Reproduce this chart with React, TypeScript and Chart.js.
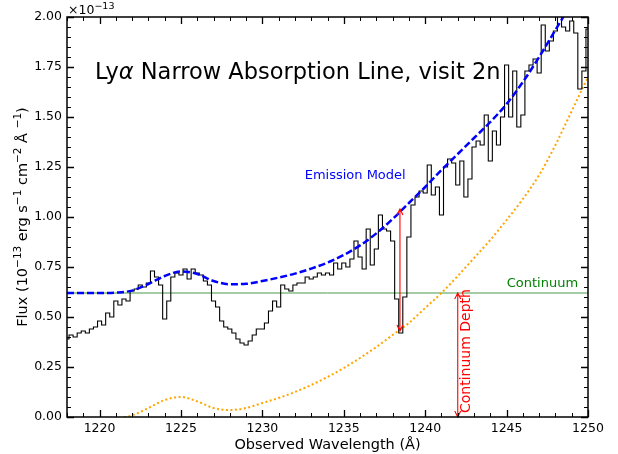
import React, { useEffect, useRef } from "react";
import { Chart, registerables } from "chart.js";

Chart.register(...registerables);

// Observed wavelength grid (Å) of the spectrum bins
const WAVELENGTH = [
  1218.0, 1218.25, 1218.5, 1218.75, 1219.0, 1219.25, 1219.5, 1219.75,
  1220.0, 1220.25, 1220.5, 1220.75, 1221.0, 1221.25, 1221.5, 1221.75,
  1222.0, 1222.25, 1222.5, 1222.75, 1223.0, 1223.25, 1223.5, 1223.75,
  1224.0, 1224.25, 1224.5, 1224.75, 1225.0, 1225.25, 1225.5, 1225.75,
  1226.0, 1226.25, 1226.5, 1226.75, 1227.0, 1227.25, 1227.5, 1227.75,
  1228.0, 1228.25, 1228.5, 1228.75, 1229.0, 1229.25, 1229.5, 1229.75,
  1230.0, 1230.25, 1230.5, 1230.75, 1231.0, 1231.25, 1231.5, 1231.75,
  1232.0, 1232.25, 1232.5, 1232.75, 1233.0, 1233.25, 1233.5, 1233.75,
  1234.0, 1234.25, 1234.5, 1234.75, 1235.0, 1235.25, 1235.5, 1235.75,
  1236.0, 1236.25, 1236.5, 1236.75, 1237.0, 1237.25, 1237.5, 1237.75,
  1238.0, 1238.25, 1238.5, 1238.75, 1239.0, 1239.25, 1239.5, 1239.75,
  1240.0, 1240.25, 1240.5, 1240.75, 1241.0, 1241.25, 1241.5, 1241.75,
  1242.0, 1242.25, 1242.5, 1242.75, 1243.0, 1243.25, 1243.5, 1243.75,
  1244.0, 1244.25, 1244.5, 1244.75, 1245.0, 1245.25, 1245.5, 1245.75,
  1246.0, 1246.25, 1246.5, 1246.75, 1247.0, 1247.25, 1247.5, 1247.75,
  1248.0, 1248.25, 1248.5, 1248.75, 1249.0, 1249.25, 1249.5, 1249.75,
  1250.0,
];

// Observed flux (10^-13 erg s^-1 cm^-2 Å^-1)
const FLUX = [
  0.39, 0.41, 0.40, 0.42, 0.43, 0.42, 0.44, 0.45,
  0.48, 0.46, 0.52, 0.50, 0.58, 0.56, 0.59, 0.58,
  0.63, 0.64, 0.66, 0.65, 0.67, 0.73, 0.70, 0.66,
  0.49, 0.58, 0.70, 0.72, 0.71, 0.74, 0.69, 0.74,
  0.72, 0.71, 0.68, 0.66, 0.58, 0.55, 0.48, 0.45,
  0.44, 0.42, 0.39, 0.37, 0.36, 0.38, 0.41, 0.44,
  0.44, 0.47, 0.53, 0.58, 0.55, 0.66, 0.64, 0.63,
  0.66, 0.67, 0.67, 0.70, 0.69, 0.70, 0.72, 0.71,
  0.72, 0.71, 0.77, 0.74, 0.77, 0.75, 0.79, 0.88,
  0.80, 0.74, 0.94, 0.76, 0.84, 1.01, 0.94, 0.93,
  0.88, 0.59, 0.42, 0.60, 0.90, 1.06, 1.10, 1.13,
  1.12, 1.26, 1.11, 1.15, 1.01, 1.25, 1.29, 1.27,
  1.16, 1.28, 1.10, 1.19, 1.35, 1.38, 1.36, 1.51,
  1.28, 1.43, 1.36, 1.50, 1.76, 1.50, 1.73, 1.45,
  1.51, 1.73, 1.76, 1.79, 1.72, 1.96, 1.83, 1.88,
  1.93, 2.05, 1.95, 1.93, 1.98, 1.92, 1.64, 1.73,
  1.94,
];

// Emission model (blue dashed)
const MODEL_WAVELENGTH = [
  1218, 1219, 1220, 1221, 1222, 1223, 1224, 1225, 1226, 1227, 1228,
  1229, 1230, 1231, 1232, 1233, 1234, 1235, 1236, 1237, 1238, 1239,
  1240, 1241, 1242, 1243, 1244, 1245, 1246, 1247, 1248, 1249, 1250,
];
const MODEL_FLUX = [
  0.62, 0.62, 0.62, 0.622, 0.632, 0.665, 0.705, 0.728, 0.715, 0.68, 0.664,
  0.666, 0.68, 0.697, 0.717, 0.742, 0.772, 0.81, 0.858, 0.918, 0.99, 1.07,
  1.15, 1.235, 1.315, 1.395, 1.475, 1.565, 1.675, 1.8, 1.935, 2.07, 2.2,
];

// Orange dotted curve
const ORANGE_WAVELENGTH = [
  1221.5, 1222, 1223, 1224, 1225, 1226, 1227, 1228, 1229, 1230, 1231,
  1232, 1233, 1234, 1235, 1236, 1237, 1238, 1239, 1240, 1241, 1242,
  1243, 1244, 1245, 1246, 1247, 1248, 1249, 1250,
];
const ORANGE_FLUX = [
  0.0, 0.008, 0.045, 0.085, 0.1, 0.078, 0.045, 0.035, 0.045, 0.07, 0.095,
  0.125, 0.16, 0.2, 0.245, 0.295, 0.35, 0.41, 0.47, 0.545, 0.62, 0.705,
  0.795, 0.885, 0.985, 1.09, 1.21, 1.36, 1.53, 1.7,
];

const CONTINUUM = 0.62;
const CONTINUUM_RANGE = [1218, 1250];

// Red arrows: [wavelength, top, bottom]
const LINE_ARROW = [1238.45, 1.04, 0.43];
const DEPTH_ARROW = [1242.0, 0.62, 0.0];

const X_TICKS = [1220, 1225, 1230, 1235, 1240, 1245, 1250];
const Y_TICKS = [0, 0.25, 0.5, 0.75, 1.0, 1.25, 1.5, 1.75, 2.0];

const FONT = "'DejaVu Sans', sans-serif";

type Part = { t: string; sup?: boolean };

function drawRich(
  ctx: CanvasRenderingContext2D,
  parts: Part[],
  x: number,
  y: number,
  size: number,
  supSize: number,
  align: "left" | "center"
) {
  const widths = parts.map((p) => {
    ctx.font = `${p.sup ? supSize : size}px ${FONT}`;
    return ctx.measureText(p.t).width;
  });
  const total = widths.reduce((a, b) => a + b, 0);
  let cx = align === "center" ? x - total / 2 : x;
  ctx.textAlign = "left";
  ctx.textBaseline = "alphabetic";
  parts.forEach((p, i) => {
    ctx.font = `${p.sup ? supSize : size}px ${FONT}`;
    ctx.fillText(p.t, cx, p.sup ? y - size * 0.42 : y);
    cx += widths[i];
  });
}

function drawArrow(
  ctx: CanvasRenderingContext2D,
  x: number,
  y1: number,
  y2: number
) {
  const hl = 6,
    hw = 3;
  ctx.beginPath();
  ctx.moveTo(x, y1);
  ctx.lineTo(x, y2);
  ctx.moveTo(x - hw, y1 + hl);
  ctx.lineTo(x, y1);
  ctx.lineTo(x + hw, y1 + hl);
  ctx.moveTo(x - hw, y2 - hl);
  ctx.lineTo(x, y2);
  ctx.lineTo(x + hw, y2 - hl);
  ctx.stroke();
}

const decorPlugin = {
  id: "decor",
  afterDatasetsDraw(chart: any) {
    const ctx: CanvasRenderingContext2D = chart.ctx;
    const xs = chart.scales.x;
    const ys = chart.scales.y;
    ctx.save();
    ctx.strokeStyle = "#ff0000";
    ctx.lineWidth = 1.1;
    [LINE_ARROW, DEPTH_ARROW].forEach((a) => {
      drawArrow(
        ctx,
        xs.getPixelForValue(a[0]),
        ys.getPixelForValue(a[1]),
        ys.getPixelForValue(a[2])
      );
    });
    ctx.textAlign = "center";
    ctx.textBaseline = "middle";
    ctx.font = `13px ${FONT}`;
    ctx.fillStyle = "#0000ff";
    ctx.fillText("Emission Model", xs.getPixelForValue(1235.7), ys.getPixelForValue(1.207));
    ctx.fillStyle = "#008000";
    ctx.fillText("Continuum", xs.getPixelForValue(1247.2), ys.getPixelForValue(0.668));
    ctx.save();
    ctx.translate(xs.getPixelForValue(1242.55), ys.getPixelForValue(0.33));
    ctx.rotate(-Math.PI / 2);
    ctx.font = `14px ${FONT}`;
    ctx.fillStyle = "#ff0000";
    ctx.fillText("Continuum Depth", 0, 0);
    ctx.restore();
    ctx.restore();
  },
  afterDraw(chart: any) {
    const ctx: CanvasRenderingContext2D = chart.ctx;
    const xs = chart.scales.x;
    const ys = chart.scales.y;
    const a = chart.chartArea;
    ctx.save();
    ctx.strokeStyle = "#000";
    for (let v = 1218; v <= 1250; v += 1) {
      const px = Math.round(xs.getPixelForValue(v)) + 0.5;
      const major = X_TICKS.includes(v);
      const L = major ? 7 : 4;
      ctx.lineWidth = major ? 1.3 : 1;
      ctx.beginPath();
      ctx.moveTo(px, a.bottom);
      ctx.lineTo(px, a.bottom - L);
      ctx.moveTo(px, a.top);
      ctx.lineTo(px, a.top + L);
      ctx.stroke();
    }
    for (let i = 0; i <= 40; i++) {
      const v = i * 0.05;
      const py = Math.round(ys.getPixelForValue(v)) + 0.5;
      const major = i % 5 === 0;
      const L = major ? 7 : 4;
      ctx.lineWidth = major ? 1.3 : 1;
      ctx.beginPath();
      ctx.moveTo(a.left, py);
      ctx.lineTo(a.left + L, py);
      ctx.moveTo(a.right, py);
      ctx.lineTo(a.right - L, py);
      ctx.stroke();
    }
    ctx.lineWidth = 1.5;
    ctx.strokeRect(a.left, a.top, a.right - a.left, a.bottom - a.top);

    ctx.fillStyle = "#000";
    drawRich(ctx, [{ t: "×10" }, { t: "−13", sup: true }], a.left + 1, 14, 12.5, 9.5, "left");
    const tx = 95;
    const ty = 79;
    ctx.textAlign = "left";
    ctx.textBaseline = "alphabetic";
    ctx.font = `22.5px ${FONT}`;
    ctx.fillText("Ly", tx, ty);
    let w = ctx.measureText("Ly").width;
    ctx.font = `oblique 22.5px ${FONT}`;
    ctx.fillText("α", tx + w, ty);
    w += ctx.measureText("α").width;
    ctx.font = `22.5px ${FONT}`;
    ctx.fillText(" Narrow Absorption Line, visit 2n", tx + w, ty);
    drawRich(ctx, [{ t: "Observed Wavelength (Å)" }], (a.left + a.right) / 2, 449, 14.5, 10, "center");
    ctx.save();
    ctx.translate(27, (a.top + a.bottom) / 2);
    ctx.rotate(-Math.PI / 2);
    drawRich(
      ctx,
      [
        { t: "Flux (10" },
        { t: "−13", sup: true },
        { t: " erg s" },
        { t: "−1", sup: true },
        { t: " cm" },
        { t: "−2", sup: true },
        { t: " Å " },
        { t: "−1", sup: true },
        { t: ")" },
      ],
      0,
      0,
      14.5,
      10.5,
      "center"
    );
    ctx.restore();
    ctx.restore();
  },
};

export default function App() {
  const ref = useRef<HTMLCanvasElement>(null);
  useEffect(() => {
    if (!ref.current) return;
    const chart = new Chart(ref.current, {
      type: "line",
      data: {
        datasets: [
          {
            label: "Emission Model",
            data: MODEL_WAVELENGTH.map((x, i) => ({ x, y: MODEL_FLUX[i] })),
            borderColor: "#0000ff",
            borderWidth: 2.5,
            borderDash: [7, 3],
            pointRadius: 0,
            cubicInterpolationMode: "monotone",
            fill: false,
          },
          {
            label: "Spectrum",
            data: WAVELENGTH.map((x, i) => ({ x, y: FLUX[i] })),
            borderColor: "#000000",
            borderWidth: 1.1,
            pointRadius: 0,
            stepped: "middle",
            fill: false,
          },
          {
            label: "Orange",
            data: ORANGE_WAVELENGTH.map((x, i) => ({ x, y: ORANGE_FLUX[i] })),
            borderColor: "#ffa500",
            borderWidth: 2,
            borderDash: [2, 2.5],
            pointRadius: 0,
            cubicInterpolationMode: "monotone",
            fill: false,
          },
          {
            label: "Continuum",
            data: CONTINUUM_RANGE.map((x) => ({ x, y: CONTINUUM })),
            borderColor: "#4a9a4a",
            borderWidth: 1,
            pointRadius: 0,
            fill: false,
          },
        ],
      },
      options: {
        animation: false,
        responsive: false,
        events: [],
        layout: { padding: { left: 0, right: 30, top: 17, bottom: 0 } },
        plugins: { legend: { display: false }, tooltip: { enabled: false } },
        scales: {
          x: {
            type: "linear",
            min: 1218,
            max: 1250,
            grid: { display: false, drawTicks: false },
            border: { display: false },
            afterBuildTicks: (s: any) => {
              s.ticks = X_TICKS.map((v) => ({ value: v }));
            },
            afterFit: (s: any) => {
              s.height = 37;
            },
            ticks: {
              autoSkip: false,
              maxRotation: 0,
              padding: 4,
              color: "#000",
              font: { family: FONT, size: 12.5 },
              callback: (v: any) => String(v),
            },
          },
          y: {
            type: "linear",
            min: 0,
            max: 2,
            grid: { display: false, drawTicks: false },
            border: { display: false },
            afterBuildTicks: (s: any) => {
              s.ticks = Y_TICKS.map((v) => ({ value: v }));
            },
            afterFit: (s: any) => {
              s.width = 67;
            },
            ticks: {
              autoSkip: false,
              padding: 5,
              color: "#000",
              font: { family: FONT, size: 12.5 },
              callback: (v: any) => Number(v).toFixed(2),
            },
          },
        },
      },
      plugins: [decorPlugin],
    } as any);
    return () => chart.destroy();
  }, []);
  return (
    <div style={{ position: "fixed", left: 0, top: 0, width: 618, height: 454, background: "#fff" }}>
      <canvas ref={ref} width={618} height={454} style={{ width: 618, height: 454 }} />
    </div>
  );
}
